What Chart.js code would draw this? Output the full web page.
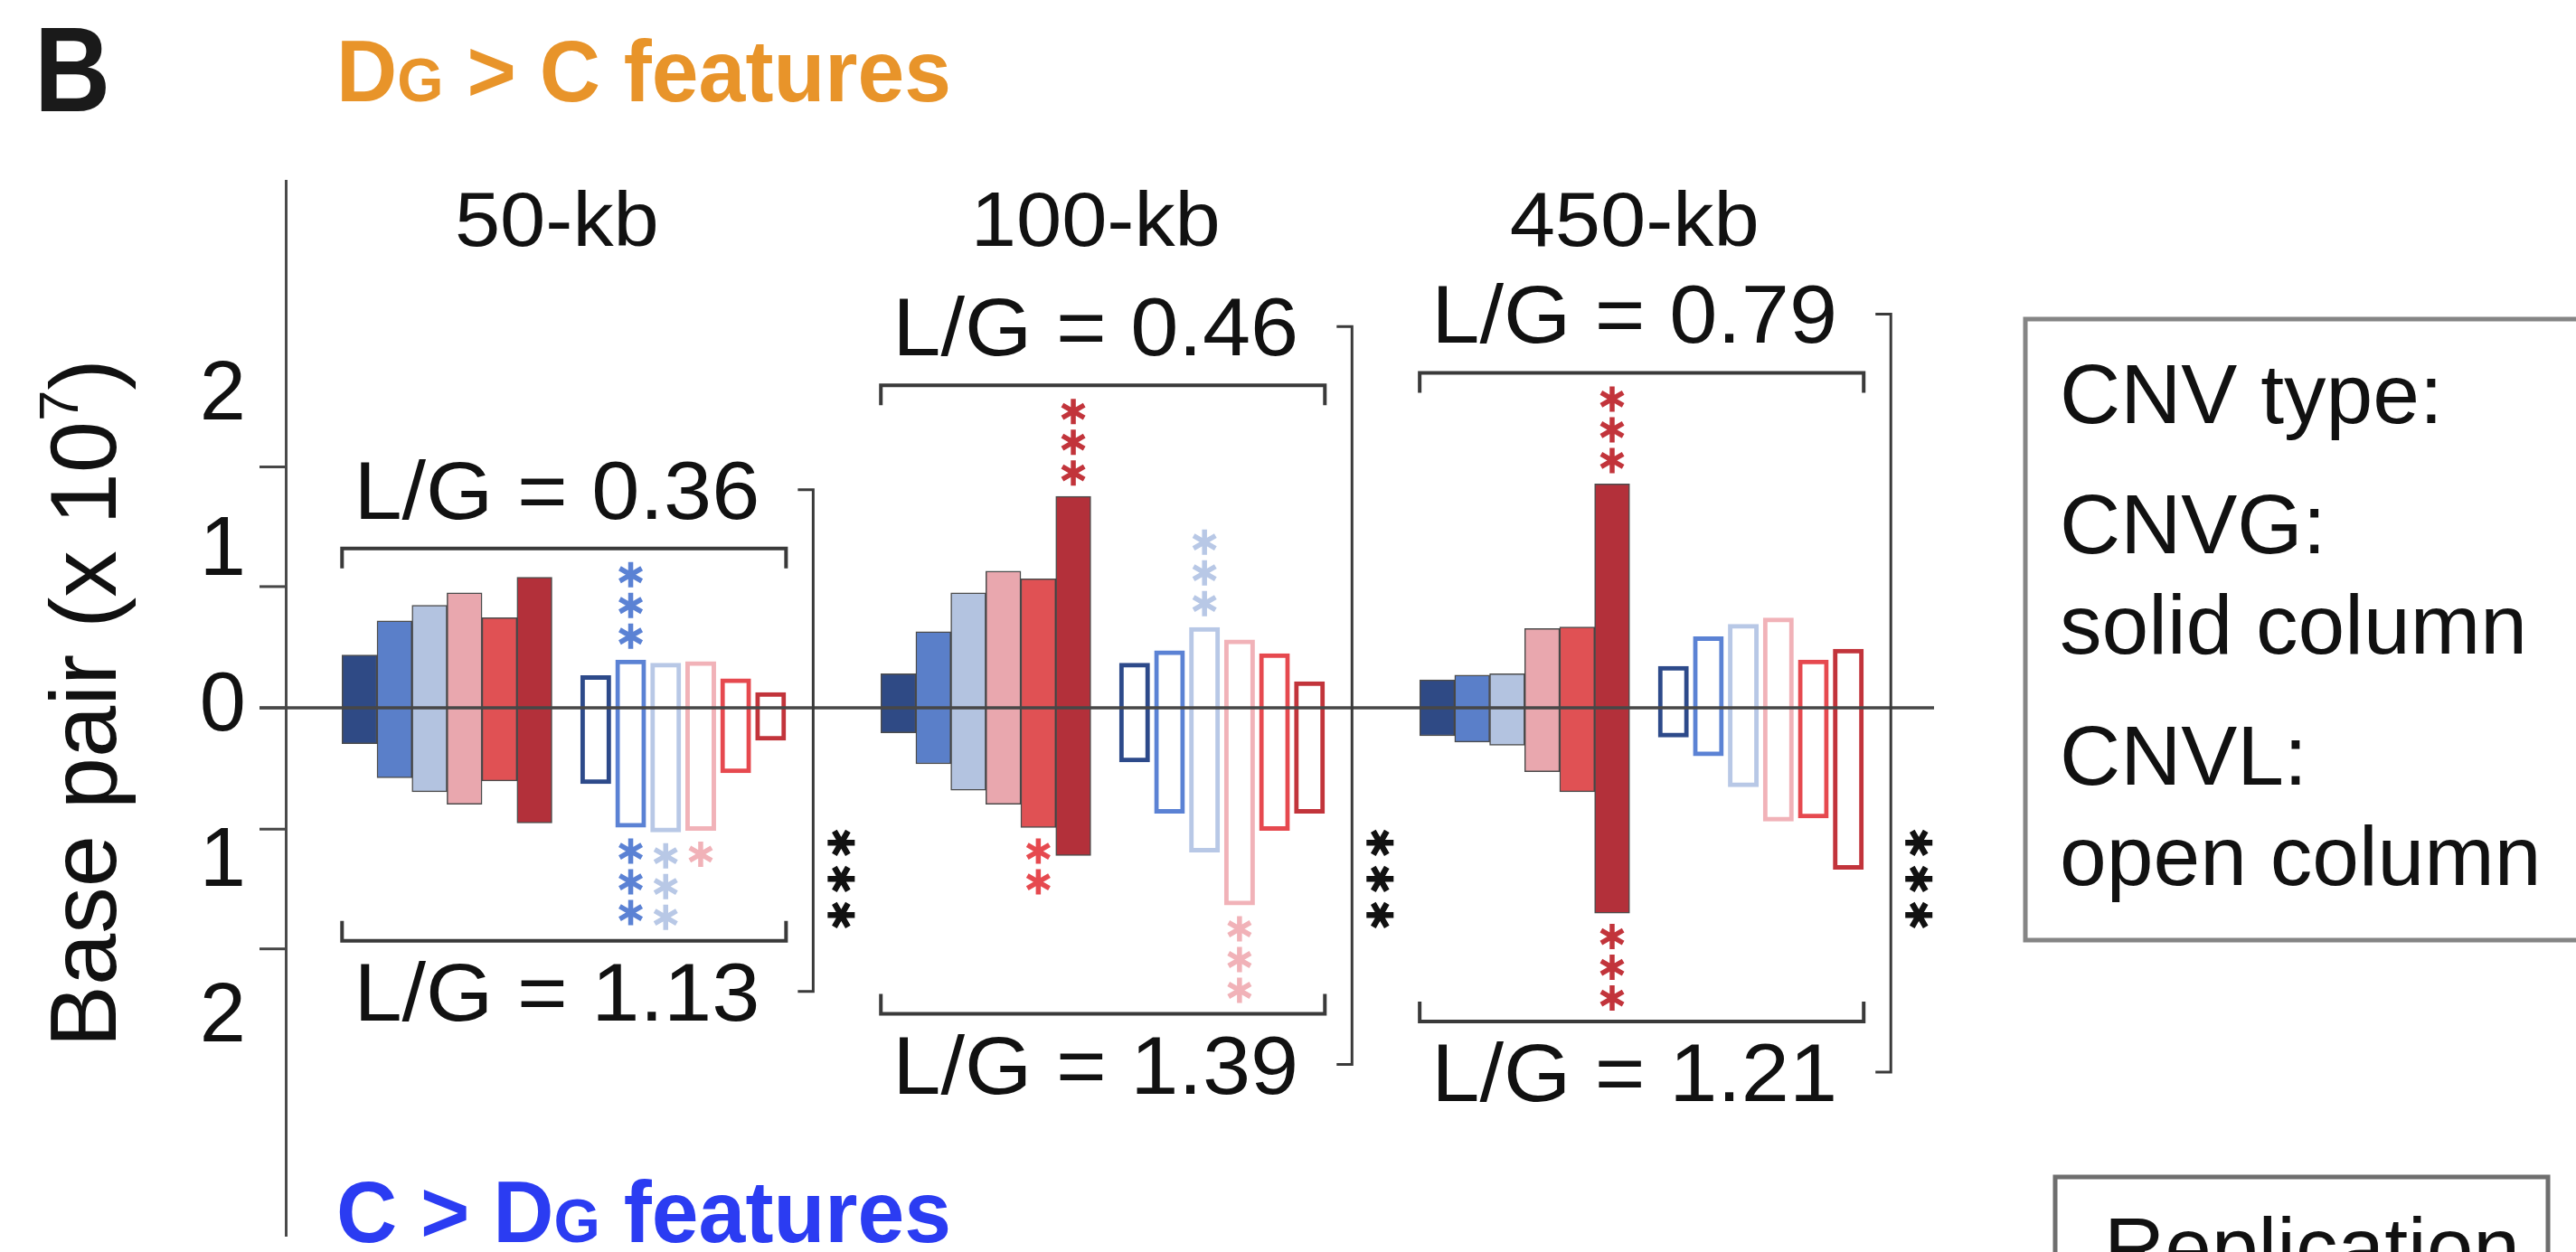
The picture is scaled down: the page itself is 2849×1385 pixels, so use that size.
<!DOCTYPE html>
<html>
<head>
<meta charset="utf-8">
<title>DG &gt; C features</title>
<script src="https://cdn.jsdelivr.net/npm/chart.js@4.4.1/dist/chart.umd.min.js"></script>
<style>
  html, body { margin: 0; padding: 0; background: #ffffff; }
  canvas { display: block; }
</style>
</head>
<body>
<canvas id="chart" width="2849" height="1385"></canvas>
<script>
// Window sizes and the L/G ratios printed above (gain side) and below (loss side)
const windows = ['50-kb', '100-kb', '450-kb'];
const ratioUpper = ['0.36', '0.46', '0.79'];
const ratioLower = ['1.13', '1.39', '1.21'];

// Base pair (x 10^7), six feature classes per window.
// "Up" = DG > C features (above zero), "Down" = C > DG features (below zero)
const cnvgUp   = [[0.34, 0.56, 0.66, 0.74, 0.58, 0.84],
                  [0.22, 0.49, 0.74, 0.88, 0.83, 1.36],
                  [0.18, 0.21, 0.22, 0.51, 0.52, 1.44]];
const cnvgDown = [[0.23, 0.45, 0.54, 0.62, 0.47, 0.74],
                  [0.16, 0.36, 0.53, 0.62, 0.77, 0.95],
                  [0.18, 0.22, 0.24, 0.41, 0.54, 1.32]];
const cnvlUp   = [[0.21, 0.31, 0.29, 0.30, 0.19, 0.10],
                  [0.29, 0.37, 0.52, 0.44, 0.35, 0.17],
                  [0.27, 0.46, 0.54, 0.58, 0.31, 0.38]];
const cnvlDown = [[0.49, 0.77, 0.80, 0.79, 0.42, 0.21],
                  [0.35, 0.68, 0.93, 1.27, 0.79, 0.68],
                  [0.19, 0.31, 0.51, 0.73, 0.71, 1.04]];

// Significance marks (number of asterisks) for each column end
const starsCnvgUp   = [[0,0,0,0,0,0],[0,0,0,0,0,3],[0,0,0,0,0,3]];
const starsCnvgDown = [[0,0,0,0,0,0],[0,0,0,0,2,0],[0,0,0,0,0,3]];
const starsCnvlUp   = [[0,3,0,0,0,0],[0,0,3,0,0,0],[0,0,0,0,0,0]];
const starsCnvlDown = [[0,3,3,1,0,0],[0,0,0,3,0,0],[0,0,0,0,0,0]];
const starsWindow   = [3, 3, 3];

// Axis labels: magnitudes printed on both sides of zero
const yTickValues = [-2, -1, 0, 1, 2];
const yTickMarks = [1.55, 0.78, 0, -0.78, -1.55];

const legendLines = ['CNV type:', 'CNVG:', 'solid column', 'CNVL:', 'open column'];

// Styling
const FONT = '"Liberation Sans", Arial, Helvetica, sans-serif';
const fillShades = ['#2f4a85', '#5a7fc9', '#b3c3e0', '#e9a7ae', '#e05154', '#b3303a'];
const lineShades = ['#2d4a8a', '#5b82d4', '#b8c8e6', '#f1b2b8', '#e6494f', '#c2343b'];
const GROUP_PITCH = 15.4;   // slots between windows
const OPEN_OFFSET = 6.75;   // slots between first solid and first open column

const solidPoints = [];
const openPoints = [];
windows.forEach((w, g) => {
  for (let i = 0; i < 6; i++) {
    solidPoints.push({ x: g * GROUP_PITCH + i, y: [-cnvgDown[g][i], cnvgUp[g][i]] });
    openPoints.push({ x: g * GROUP_PITCH + OPEN_OFFSET + i, y: [-cnvlDown[g][i], cnvlUp[g][i]] });
  }
});

function asterisk(ctx, cx, cy, r, lw, color, rot) {
  ctx.save();
  ctx.strokeStyle = color;
  ctx.lineWidth = lw;
  ctx.lineCap = 'butt';
  ctx.beginPath();
  for (let k = 0; k < 3; k++) {
    const a = rot + k * Math.PI / 3;
    ctx.moveTo(cx + r * Math.cos(a), cy + r * Math.sin(a));
    ctx.lineTo(cx - r * Math.cos(a), cy - r * Math.sin(a));
  }
  ctx.stroke();
  ctx.restore();
}

const STAR_FIRST = 26, STAR_STEP = 34, STAR_R = 14;
function starExtent(n) { return n ? STAR_FIRST + (n - 1) * STAR_STEP + 15 : 0; }

function drawMixed(ctx, x, y, parts, sx, color) {
  ctx.save();
  ctx.translate(x, y);
  ctx.scale(sx, 1);
  ctx.fillStyle = color;
  ctx.textBaseline = 'alphabetic';
  ctx.textAlign = 'left';
  let cx = 0;
  parts.forEach(p => {
    ctx.font = p.font;
    ctx.fillText(p.t, cx, 0);
    cx += ctx.measureText(p.t).width;
  });
  ctx.restore();
}

// centred text with a slight horizontal stretch
function stretchedText(ctx, t, x, y, sx) {
  ctx.save();
  ctx.translate(x, y);
  ctx.scale(sx, 1);
  ctx.textAlign = 'center';
  ctx.fillText(t, 0, 0);
  ctx.restore();
}

const annotations = {
  id: 'annotations',
  afterDatasetsDraw(chart) {
    const ctx = chart.ctx;
    const ys = chart.scales.y;
    const area = chart.chartArea;
    const zeroY = ys.getPixelForValue(0);
    const solidMeta = chart.getDatasetMeta(0);
    const openMeta = chart.getDatasetMeta(1);

    // zero line and axis tick marks
    ctx.save();
    ctx.strokeStyle = '#474747';
    ctx.lineWidth = 3.5;
    ctx.beginPath();
    ctx.moveTo(area.left - 29, zeroY);
    ctx.lineTo(area.right, zeroY);
    ctx.stroke();
    ctx.lineWidth = 3;
    yTickMarks.forEach(v => {
      const py = ys.getPixelForValue(v);
      ctx.beginPath();
      ctx.moveTo(area.left - 29, py);
      ctx.lineTo(area.left, py);
      ctx.stroke();
    });
    ctx.restore();

    windows.forEach((w, g) => {
      let topMost = Infinity, bottomMost = -Infinity;
      const cols = [];
      for (let i = 0; i < 6; i++) {
        cols.push({ el: solidMeta.data[g * 6 + i], up: starsCnvgUp[g][i], down: starsCnvgDown[g][i], color: lineShades[i] });
      }
      for (let i = 0; i < 6; i++) {
        cols.push({ el: openMeta.data[g * 6 + i], up: starsCnvlUp[g][i], down: starsCnvlDown[g][i], color: lineShades[i] });
      }
      cols.forEach(c => {
        const p = c.el.getProps(['x', 'y', 'base', 'width'], true);
        const top = Math.min(p.y, p.base), bottom = Math.max(p.y, p.base);
        for (let k = 0; k < c.up; k++) {
          asterisk(ctx, p.x, top - STAR_FIRST - k * STAR_STEP, STAR_R, 5.5, c.color, Math.PI / 2);
        }
        for (let k = 0; k < c.down; k++) {
          asterisk(ctx, p.x, bottom + STAR_FIRST + k * STAR_STEP, STAR_R, 5.5, c.color, Math.PI / 2);
        }
        topMost = Math.min(topMost, top - starExtent(c.up));
        bottomMost = Math.max(bottomMost, bottom + starExtent(c.down));
      });

      const first = solidMeta.data[g * 6].getProps(['x', 'width'], true);
      const last = openMeta.data[g * 6 + 5].getProps(['x', 'width'], true);
      const x0 = first.x - first.width / 2;
      const x1 = last.x + last.width / 2;
      const cx = (x0 + x1) / 2 - 8;
      const bTop = topMost - 14;
      const bBot = bottomMost + 11;

      ctx.save();
      ctx.strokeStyle = '#3a3a3a';
      ctx.lineWidth = 4;
      ctx.beginPath();
      ctx.moveTo(x0, bTop + 22); ctx.lineTo(x0, bTop); ctx.lineTo(x1, bTop); ctx.lineTo(x1, bTop + 22);
      ctx.moveTo(x0, bBot - 22); ctx.lineTo(x0, bBot); ctx.lineTo(x1, bBot); ctx.lineTo(x1, bBot - 22);
      ctx.stroke();

      // window title and L/G ratios
      ctx.fillStyle = '#111111';
      ctx.textBaseline = 'alphabetic';
      ctx.font = '86px ' + FONT;
      stretchedText(ctx, w, cx, 272, 1.05);
      ctx.font = '91px ' + FONT;
      const upBase = bTop - 33;
      const lowBase = bBot + 88;
      stretchedText(ctx, 'L/G = ' + ratioUpper[g], cx, upBase, 1.05);
      stretchedText(ctx, 'L/G = ' + ratioLower[g], cx, lowBase, 1.05);

      // connector between upper and lower ratio
      const connX = x1 + 30;
      ctx.lineWidth = 3;
      ctx.beginPath();
      ctx.moveTo(connX - 17, upBase - 32); ctx.lineTo(connX, upBase - 32);
      ctx.lineTo(connX, lowBase - 32); ctx.lineTo(connX - 17, lowBase - 32);
      ctx.stroke();
      ctx.restore();

      const sy = ys.getPixelForValue(-1.1);
      for (let k = 0; k < starsWindow[g]; k++) {
        asterisk(ctx, connX + 31, sy + (k - (starsWindow[g] - 1) / 2) * 40, 15, 6.5, '#111111', 0);
      }
    });
  },
  afterDraw(chart) {
    const ctx = chart.ctx;
    // panel letter
    drawMixed(ctx, 38, 123, [{ t: 'B', font: 'bold 134px ' + FONT }], 0.87, '#1a1a1a');
    // side headings
    drawMixed(ctx, 372, 112, [
      { t: 'D', font: 'bold 96px ' + FONT },
      { t: 'G', font: 'bold 68px ' + FONT },
      { t: ' > C features', font: 'bold 96px ' + FONT }
    ], 0.97, '#e8942a');
    drawMixed(ctx, 372, 1374, [
      { t: 'C > D', font: 'bold 96px ' + FONT },
      { t: 'G', font: 'bold 68px ' + FONT },
      { t: ' features', font: 'bold 96px ' + FONT }
    ], 0.97, '#2b3cf2');

    // y axis title with superscript exponent
    ctx.save();
    ctx.translate(128, 778);
    ctx.rotate(-Math.PI / 2);
    ctx.fillStyle = '#111111';
    ctx.textBaseline = 'alphabetic';
    ctx.textAlign = 'left';
    const big = '103px ' + FONT, small = '62px ' + FONT;
    ctx.font = big;
    const a = 'Base pair (x 10', c = ')';
    const wa = ctx.measureText(a).width, wc = ctx.measureText(c).width;
    ctx.font = small;
    const wb = ctx.measureText('7').width;
    let x = -(wa + wb + wc) / 2;
    ctx.font = big; ctx.fillText(a, x, 0); x += wa;
    ctx.font = small; ctx.fillText('7', x, -42); x += wb;
    ctx.font = big; ctx.fillText(c, x, 0);
    ctx.restore();

    // legend boxes
    ctx.save();
    ctx.strokeStyle = '#858585';
    ctx.lineWidth = 5;
    ctx.strokeRect(2240, 353, 700, 687);
    ctx.strokeStyle = '#6e6e6e';
    ctx.strokeRect(2273, 1302, 545, 200);
    ctx.fillStyle = '#111111';
    ctx.textAlign = 'left';
    ctx.textBaseline = 'alphabetic';
    ctx.font = '93px ' + FONT;
    const baselines = [468, 612, 723, 868, 979];
    legendLines.forEach((t, i) => ctx.fillText(t, 2278, baselines[i]));
    ctx.fillText('Replication', 2327, 1412);
    ctx.restore();
  }
};

new Chart(document.getElementById('chart'), {
  type: 'bar',
  data: {
    datasets: [
      {
        label: 'CNVG',
        data: solidPoints,
        grouped: false,
        barPercentage: 1,
        categoryPercentage: 1,
        backgroundColor: ctx => fillShades[ctx.dataIndex % 6],
        borderColor: 'rgba(45,45,45,0.85)',
        borderWidth: 1.5,
        borderSkipped: false
      },
      {
        label: 'CNVL',
        data: openPoints,
        grouped: false,
        barPercentage: 0.88,
        categoryPercentage: 1,
        backgroundColor: 'rgba(255,255,255,0)',
        borderColor: ctx => lineShades[ctx.dataIndex % 6],
        borderWidth: 5,
        borderSkipped: false
      }
    ]
  },
  options: {
    responsive: false,
    animation: false,
    devicePixelRatio: 1,
    layout: { padding: { left: 0, top: 200, right: 710, bottom: 18 } },
    plugins: { legend: { display: false }, tooltip: { enabled: false } },
    scales: {
      x: {
        type: 'linear',
        min: -2.11,
        max: 45,
        offset: false,
        display: false,
        afterBuildTicks: s => { s.ticks = [{ value: s.min }, { value: s.max }]; }
      },
      y: {
        min: -3.395,
        max: 3.39,
        afterFit: s => { s.width = 316; s.paddingTop = 0; s.paddingBottom = 0; },
        afterBuildTicks: s => { s.ticks = yTickValues.map(v => ({ value: v })); },
        grid: { display: false, drawTicks: false },
        border: { display: true, color: '#4a4a4a', width: 3 },
        ticks: {
          padding: 44,
          color: '#111111',
          font: { family: FONT, size: 92 },
          callback: v => String(Math.abs(v))
        }
      }
    }
  },
  plugins: [annotations]
});
</script>
</body>
</html>
